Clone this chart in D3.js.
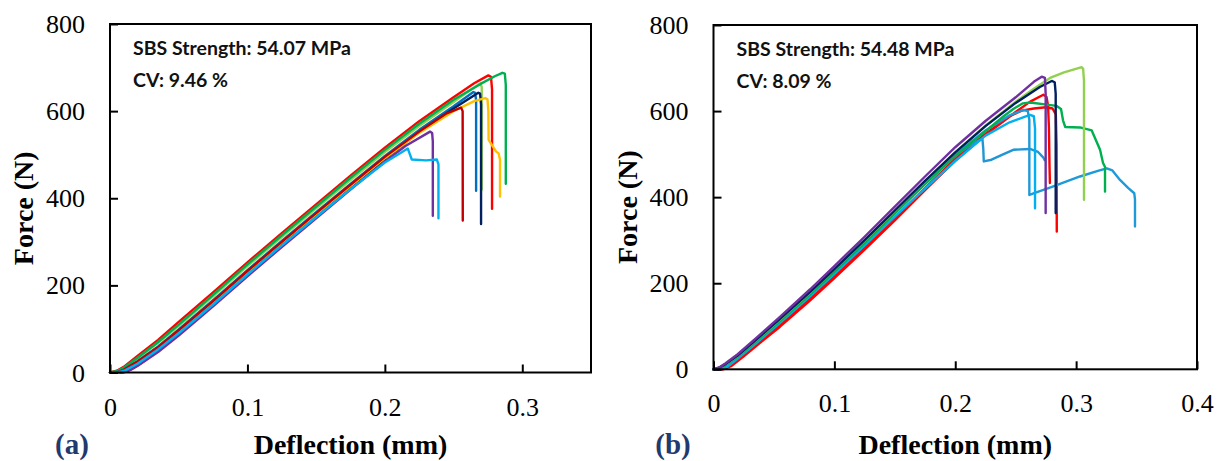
<!DOCTYPE html>
<html>
<head>
<meta charset="utf-8">
<script src="https://cdn.jsdelivr.net/npm/d3@7"></script>
<style>
  html, body { margin: 0; padding: 0; background: #fff; }
  svg { display: block; }
</style>
</head>
<body>
<script>
// Force–deflection curves from short-beam-shear tests, two specimen sets.

// ---- shared ticks ----
const yTicks = [0, 200, 400, 600, 800];
const xTicksA = [0, 0.1, 0.2, 0.3];
const xTicksB = [0, 0.1, 0.2, 0.3, 0.4];

// ---- set (a): [deflection mm, force N] ----
const a_lightGreen = [[0,0],[0.005,3],[0.01,10],[0.02,32],[0.035,68],[0.05,107],[0.075,175],[0.1,244],[0.125,311],[0.15,377],[0.175,442],[0.2,506],[0.225,566],[0.25,621],[0.262,648],[0.2695,664],[0.2705,655],[0.2705,420]];
const a_red = [[0,0],[0.005,4],[0.01,13],[0.02,38],[0.035,75],[0.05,116],[0.075,184],[0.1,253],[0.125,320],[0.15,386],[0.175,452],[0.2,516],[0.225,577],[0.25,632],[0.265,664],[0.2753,682],[0.2772,679],[0.278,650],[0.278,376]];
const a_green = [[0,0],[0.005,3],[0.01,11],[0.02,34],[0.035,70],[0.05,110],[0.075,178],[0.1,248],[0.125,315],[0.15,381],[0.175,447],[0.2,511],[0.225,571],[0.25,626],[0.27,663],[0.28,680],[0.2855,688],[0.2873,686],[0.288,660],[0.288,433]];
const a_blue = [[0,0],[0.004,0],[0.01,6],[0.02,26],[0.035,60],[0.05,99],[0.075,166],[0.1,235],[0.125,302],[0.15,368],[0.175,433],[0.2,497],[0.225,557],[0.25,611],[0.2644,644],[0.2657,642],[0.2664,625],[0.2664,417]];
const a_navy = [[0,0],[0.008,0],[0.013,4],[0.02,16],[0.035,50],[0.05,89],[0.075,157],[0.1,226],[0.125,294],[0.15,360],[0.175,426],[0.2,490],[0.225,552],[0.25,606],[0.268,642],[0.2693,640],[0.27,615],[0.27,341]];
const a_orange = [[0,0],[0.006,0],[0.011,5],[0.02,22],[0.035,56],[0.05,95],[0.075,162],[0.1,231],[0.125,298],[0.15,363],[0.175,428],[0.2,492],[0.225,550],[0.25,600],[0.265,623],[0.273,630],[0.2747,627],[0.2753,600],[0.2755,534],[0.281,507],[0.2828,503],[0.2838,488],[0.2838,404]];
const a_darkRed = [[0,0],[0.005,0],[0.01,6],[0.02,25],[0.035,58],[0.05,97],[0.075,164],[0.1,233],[0.125,300],[0.15,366],[0.175,431],[0.2,495],[0.225,553],[0.245,595],[0.2555,608],[0.2566,600],[0.2567,349]];
const a_purple = [[0,0],[0.0097,0],[0.015,6],[0.02,15],[0.035,47],[0.05,85],[0.075,152],[0.1,221],[0.125,288],[0.15,354],[0.175,420],[0.2,484],[0.215,520],[0.2329,553],[0.2344,550],[0.2349,530],[0.2349,360]];
const a_lightBlue = [[0,0],[0.006,0],[0.011,5],[0.02,20],[0.035,53],[0.05,90],[0.075,156],[0.1,225],[0.125,292],[0.15,357],[0.175,421],[0.2,482],[0.2167,514],[0.2183,500],[0.2196,489],[0.23,487],[0.2378,489],[0.239,478],[0.239,354]];

// ---- set (b): [deflection mm, force N] ----
const b_red = [[0,0],[0.008,0],[0.015,8],[0.025,30],[0.04,65],[0.055,99],[0.08,160],[0.1,212],[0.125,278],[0.15,346],[0.175,416],[0.2,485],[0.225,545],[0.25,598],[0.262,622],[0.2729,638],[0.2755,633],[0.2768,612],[0.2775,560],[0.278,470],[0.2783,433]];
const b_red2 = [[0,0],[0.007,0],[0.013,7],[0.022,27],[0.04,68],[0.055,103],[0.08,165],[0.1,217],[0.125,284],[0.15,352],[0.175,421],[0.2,489],[0.225,547],[0.245,588],[0.255,601],[0.265,606],[0.275,609],[0.2805,606],[0.2832,592],[0.2838,520],[0.284,320]];
const b_skyBlue = [[0,0],[0.005,2],[0.01,10],[0.02,29],[0.035,64],[0.055,113],[0.08,175],[0.1,228],[0.125,296],[0.15,364],[0.175,432],[0.2,496],[0.215,526],[0.2225,535],[0.2232,512],[0.2236,483],[0.23,487],[0.24,500],[0.248,510],[0.2618,512],[0.2685,505],[0.2729,492],[0.274,486]];
const b_blue = [[0,0],[0.005,3],[0.01,11],[0.02,30],[0.035,66],[0.055,115],[0.08,177],[0.1,230],[0.125,298],[0.15,366],[0.175,434],[0.2,499],[0.225,555],[0.245,590],[0.2565,603],[0.26,600],[0.2613,580],[0.2613,405],[0.2647,409],[0.28,424],[0.3032,448],[0.318,461],[0.3253,467],[0.33,462],[0.3363,440],[0.3432,421],[0.3481,409],[0.3487,395],[0.3487,332]];
const b_lightBlue = [[0,0],[0.006,0],[0.012,7],[0.02,25],[0.035,60],[0.055,108],[0.08,170],[0.1,222],[0.125,288],[0.15,355],[0.175,420],[0.2,484],[0.225,543],[0.245,574],[0.2618,591],[0.265,588],[0.266,560],[0.266,374]];
const b_green = [[0,0],[0.005,3],[0.01,10],[0.02,29],[0.035,64],[0.055,112],[0.08,174],[0.1,227],[0.125,294],[0.15,362],[0.175,430],[0.2,496],[0.225,553],[0.24,588],[0.248,605],[0.256,618],[0.262,620],[0.2757,615],[0.2839,612],[0.2875,605],[0.2892,578],[0.291,563],[0.3032,562],[0.3129,555],[0.3198,510],[0.3222,480],[0.3239,470],[0.3239,413]];
const b_lightGreen = [[0,0],[0.005,4],[0.01,12],[0.02,31],[0.035,67],[0.055,116],[0.08,179],[0.1,232],[0.125,299],[0.15,368],[0.175,437],[0.2,504],[0.225,566],[0.25,622],[0.265,652],[0.2784,677],[0.29,690],[0.3046,702],[0.3058,698],[0.3065,670],[0.3065,394]];
const b_navy = [[0,0],[0.005,4],[0.01,12],[0.02,32],[0.035,68],[0.055,117],[0.08,180],[0.1,233],[0.125,300],[0.15,369],[0.175,438],[0.2,504],[0.225,565],[0.25,619],[0.27,656],[0.2798,670],[0.2823,667],[0.2831,640],[0.2831,363]];
const b_purple = [[0,0],[0.005,5],[0.01,14],[0.02,35],[0.035,72],[0.055,122],[0.08,186],[0.1,240],[0.125,308],[0.15,378],[0.175,448],[0.2,516],[0.225,577],[0.25,632],[0.265,668],[0.2715,680],[0.2742,677],[0.2748,640],[0.2748,363]];

// ---- annotation text ----
const labelsA = ["SBS Strength: 54.07 MPa", "CV: 9.46 %"];
const labelsB = ["SBS Strength: 54.48 MPa", "CV: 8.09 %"];

// ---- series lists and their stroke colours (drawing order) ----
const seriesA = [a_lightGreen, a_red, a_green, a_blue, a_navy, a_orange, a_darkRed, a_purple, a_lightBlue];
const coloursA = ["#92d050", "#ff0000", "#00b050", "#0070c0", "#002060", "#ffc000", "#c00000", "#7030a0", "#00b0f0"];
const seriesB = [b_red, b_red2, b_skyBlue, b_blue, b_lightBlue, b_green, b_lightGreen, b_navy, b_purple];
const coloursB = ["#ff0000", "#ff0000", "#2196d6", "#1e9ad8", "#00b0f0", "#00b050", "#92d050", "#002060", "#7030a0"];

const W = 1223, H = 461;
const serif = "'Liberation Serif', 'Times New Roman', serif";
const svg = d3.select("body").append("svg").attr("width", W).attr("height", H);

function panel(opt) {
  const { left, right, top, bottom, xMax, xTicks, series, colours, labels, tag, tagX } = opt;
  const x = d3.scaleLinear().domain([0, xMax]).range([left, right]);
  const y = d3.scaleLinear().domain([0, 800]).range([bottom, top]);
  const g = svg.append("g");

  // curves
  const line = d3.line().x(d => x(d[0])).y(d => y(d[1])).curve(d3.curveLinear);
  g.append("g").selectAll("path").data(series).join("path")
    .attr("d", line)
    .attr("fill", "none")
    .attr("stroke", (d, i) => colours[i])
    .attr("stroke-width", 2.4)
    .attr("stroke-linejoin", "round")
    .attr("stroke-linecap", "round");

  // axes with inward ticks
  const xAxis = g.append("g").attr("transform", `translate(0,${bottom})`)
    .call(d3.axisBottom(x).tickValues(xTicks).tickSizeInner(-8).tickSizeOuter(0).tickFormat(d => String(d)));
  const yAxis = g.append("g").attr("transform", `translate(${left},0)`)
    .call(d3.axisLeft(y).tickValues(yTicks).tickSizeInner(-8).tickSizeOuter(0).tickFormat(d => String(d)));
  [xAxis, yAxis].forEach(ax => {
    ax.select(".domain").remove();
    ax.selectAll(".tick line").attr("stroke", "#000").attr("stroke-width", 2);
    ax.selectAll(".tick text")
      .attr("font-family", serif).attr("font-size", 26).attr("fill", "#000");
  });
  xAxis.selectAll(".tick text").attr("y", 43).attr("dy", null);
  yAxis.selectAll(".tick text").attr("x", -25).attr("dy", "0.33em");

  // frame
  g.append("rect")
    .attr("x", left).attr("y", top)
    .attr("width", right - left).attr("height", bottom - top)
    .attr("fill", "none").attr("stroke", "#000").attr("stroke-width", 2);

  // annotations
  g.selectAll("text.note").data(labels).join("text")
    .attr("class", "note")
    .attr("x", left + 23)
    .attr("y", (d, i) => top + 31 + i * 32)
    .attr("font-family", "Lato, 'Open Sans', sans-serif")
    .attr("font-weight", 700)
    .attr("font-size", 19.5)
    .attr("fill", "#111")
    .text(d => d);

  // axis titles
  g.append("text")
    .attr("x", (left + right) / 2).attr("y", 454)
    .attr("text-anchor", "middle")
    .attr("font-family", serif).attr("font-weight", 700).attr("font-size", 28)
    .text("Deflection (mm)");
  g.append("text")
    .attr("transform", `translate(${left - 77},${(top + bottom) / 2 + 10}) rotate(-90)`)
    .attr("text-anchor", "middle")
    .attr("font-family", serif).attr("font-weight", 700).attr("font-size", 28)
    .text("Force (N)");

  // panel tag
  g.append("text")
    .attr("x", tagX).attr("y", 454)
    .attr("text-anchor", "middle")
    .attr("font-family", serif).attr("font-weight", 700).attr("font-size", 29)
    .attr("fill", "#1f3a6e")
    .text(tag);
}

panel({ left: 110, right: 591, top: 24, bottom: 372.5, xMax: 0.35, xTicks: xTicksA,
        series: seriesA, colours: coloursA, labels: labelsA, tag: "(a)", tagX: 72 });
panel({ left: 713.5, right: 1197, top: 25, bottom: 369.3, xMax: 0.4, xTicks: xTicksB,
        series: seriesB, colours: coloursB, labels: labelsB, tag: "(b)", tagX: 673 });
</script>
</body>
</html>
